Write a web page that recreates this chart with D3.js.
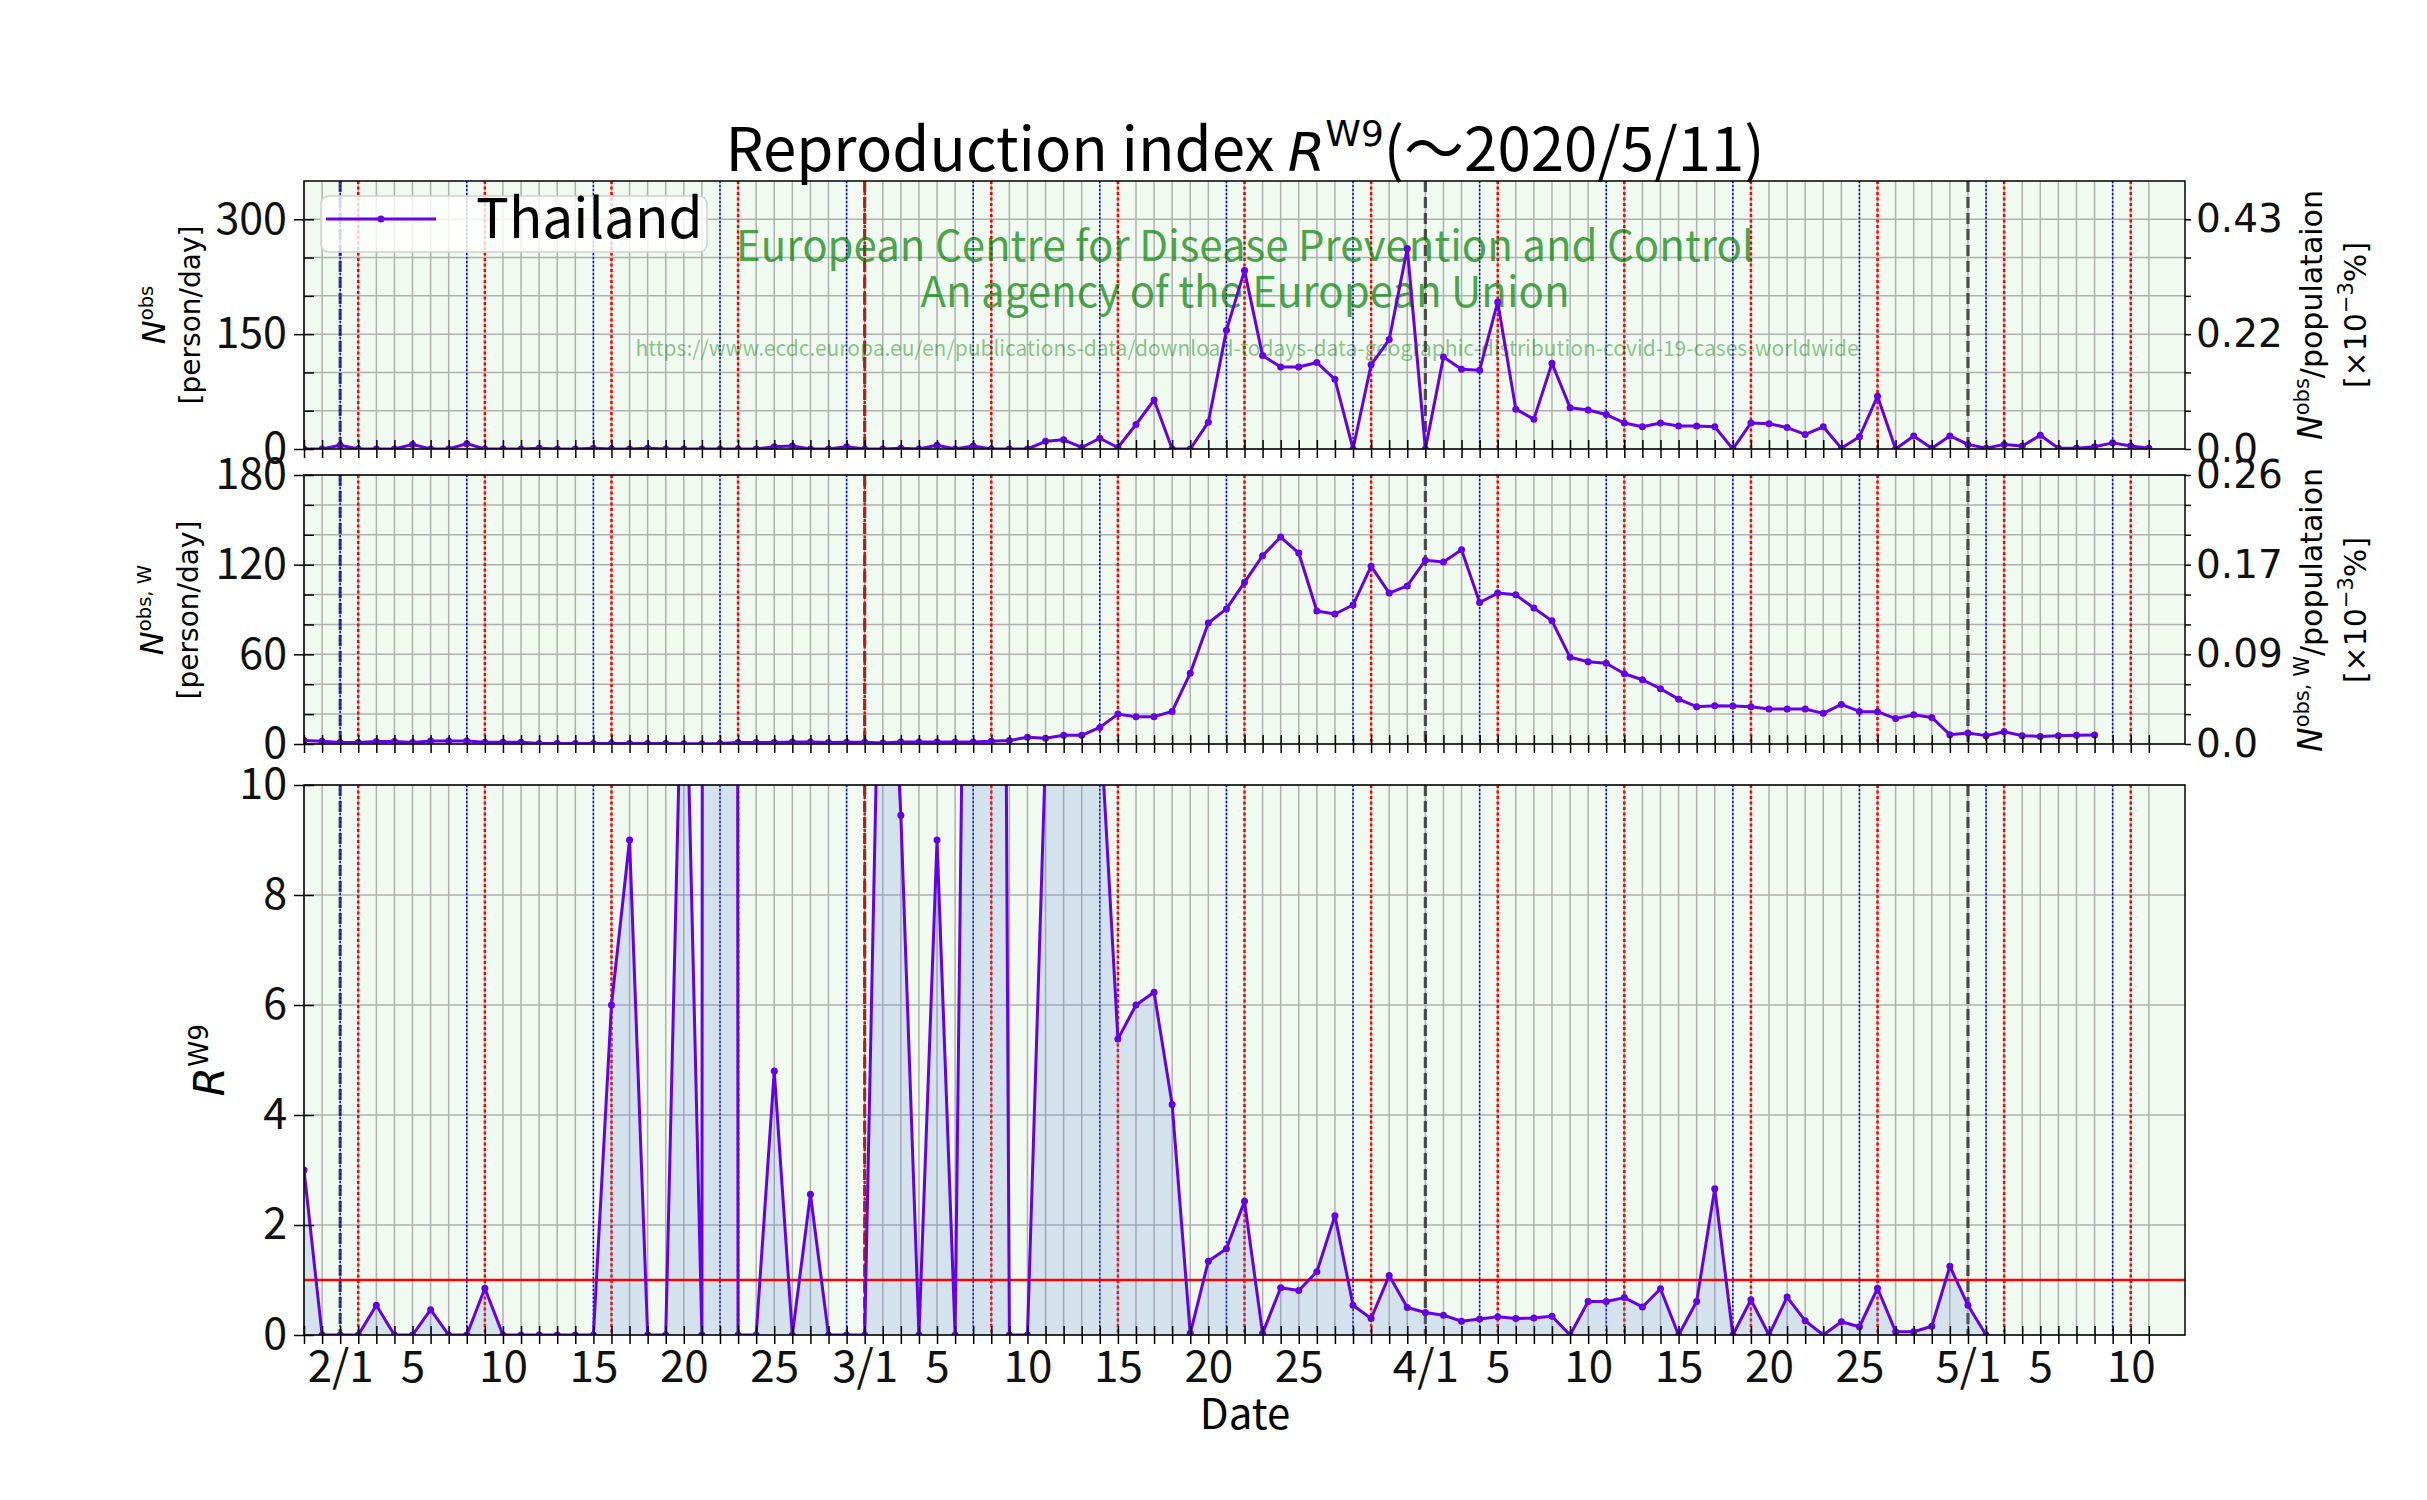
<!DOCTYPE html>
<html>
<head>
<meta charset="utf-8">
<script src="https://cdn.jsdelivr.net/npm/d3@7/dist/d3.min.js"></script>
<style>
  body { margin: 0; background: #fff; }
</style>
</head>
<body>
<svg id="chart" width="2427" height="1500"></svg>
<script>
// ---- data ----
const firstDay = "2020-01-30";   // first data point = left edge
const lastTick = "2020-05-11";   // last daily tick / grid line
const lastDay = "2020-05-13";    // right edge of the x axis

// daily new cases N^obs [person/day], 2020-01-30 .. 2020-05-11
const dailyCases = [
  0, 0, 5, 0, 0, 0, 6, 0, 0, 7,
  0, 0, 0, 1, 0, 0, 1, 0, 0, 1,
  0, 0, 0, 0, 0, 0, 3, 4, 0, 0,
  3, 0, 0, 1, 0, 5, 0, 4, 0, 0,
  0, 10, 12, 2, 14, 2, 32, 64, 0, 0,
  35, 155, 233, 122, 107, 107, 113, 91, 0, 110,
  143, 262, 0, 120, 104, 103, 192, 52, 39, 112,
  54, 51, 45, 34, 29, 34, 30, 30, 29, 0,
  34, 33, 28, 19, 29, 1, 16, 69, 0, 17,
  1, 17, 6, 1, 6, 4, 18, 1, 1, 3,
  8, 4, 1
];

// weekly averaged N^obs,W [person/day], 2020-01-30 .. 2020-05-08
const weeklyCases = [
  2.3, 1.9, 1.0, 1.0, 1.7, 1.6, 1.0, 2.0, 2.0, 2.0,
  1.1, 1.1, 1.1, 0.4, 0.4, 0.4, 0.4, 0.4, 0.3, 0.3,
  0.3, 0.1, 0.1, 0.4, 1.0, 1.0, 1.0, 1.4, 1.4, 1.0,
  1.1, 1.1, 0.6, 1.3, 1.4, 1.4, 1.4, 1.4, 1.8, 2.4,
  4.5, 3.8, 5.8, 5.8, 11.1, 20.0, 18.3, 18.3, 21.8, 47.4,
  81.0, 90.4, 108.2, 126.0, 138.5, 127.8, 89.0, 87.0, 93.0, 119.0,
  101.0, 105.8, 123.0, 121.8, 130.0, 94.7, 101.0, 99.8, 91.0, 82.4,
  58.0, 55.0, 54.0, 47.0, 43.0, 37.0, 30.0, 25.0, 25.6, 25.4,
  25.0, 23.4, 23.4, 23.4, 20.5, 26.5, 21.8, 21.6, 17.0, 19.6,
  17.8, 6.2, 7.3, 5.6, 8.2, 5.6, 5.1, 5.6, 5.8, 6.0
];

// reproduction index R^W9, 2020-01-30 .. 2020-05-02 (values above 10 run off the panel)
const rw9 = [
  3.0, 0, 0, 0, 0.54, 0, 0, 0.46, 0, 0,
  0.85, 0, 0, 0, 0, 0, 0, 6.0, 9.0, 0,
  0, 14, 0, 500, 0, 0, 4.8, 0, 2.56, 0,
  0, 0, 16, 9.45, 0, 9.0, 0, 28, 60, 0,
  0, 10.6, 16, 13, 11.3, 5.38, 6.0, 6.23, 4.19, 0.03,
  1.34, 1.57, 2.43, 0.03, 0.86, 0.81, 1.15, 2.17, 0.54, 0.30,
  1.08, 0.50, 0.41, 0.36, 0.25, 0.29, 0.33, 0.30, 0.31, 0.34,
  0, 0.61, 0.61, 0.68, 0.51, 0.84, 0, 0.61, 2.66, 0,
  0.64, 0, 0.69, 0.26, 0, 0.24, 0.15, 0.85, 0.06, 0.06,
  0.16, 1.25, 0.54, 0
];

const xTickDates = [
  "2020-02-01", "2020-02-05", "2020-02-10", "2020-02-15", "2020-02-20", "2020-02-25",
  "2020-03-01", "2020-03-05", "2020-03-10", "2020-03-15", "2020-03-20", "2020-03-25",
  "2020-04-01", "2020-04-05", "2020-04-10", "2020-04-15", "2020-04-20", "2020-04-25",
  "2020-05-01", "2020-05-05", "2020-05-10"
];
const xTickLabels = [
  "2/1", "5", "10", "15", "20", "25",
  "3/1", "5", "10", "15", "20", "25",
  "4/1", "5", "10", "15", "20", "25",
  "5/1", "5", "10"
];

const topTicks = [0, 150, 300];
const topGrid = [0, 50, 100, 150, 200, 250, 300];
const topRightLabels = ["0.0", "0.22", "0.43"];
const midTicks = [0, 60, 120, 180];
const midGrid = [0, 20, 40, 60, 80, 100, 120, 140, 160, 180];
const midRightLabels = ["0.0", "0.09", "0.17", "0.26"];
const rTicks = [0, 2, 4, 6, 8, 10];

// ---- setup ----
const svg = d3.select("#chart");
const font = "'Noto Sans CJK JP', 'Noto Sans', sans-serif";
const mathFont = "'DejaVu Sans', sans-serif";
const lineColor = "#6600e6";

const parseDay = d3.utcParse("%Y-%m-%d");
const t0 = parseDay(firstDay);
const dayOf = i => d3.utcDay.offset(t0, i);

const plotLeft = 304, plotRight = 2185;
const x = d3.scaleUtc().domain([t0, parseDay(lastDay)]).range([plotLeft, plotRight]);
const days = d3.utcDay.range(t0, d3.utcDay.offset(parseDay(lastTick), 1));

function addPanel(name, top, bottom, ymax, grid) {
  const y = d3.scaleLinear().domain([0, ymax]).range([bottom, top]);
  svg.append("clipPath").attr("id", "clip-" + name)
    .append("rect")
    .attr("x", plotLeft).attr("y", top)
    .attr("width", plotRight - plotLeft).attr("height", bottom - top);

  const g = svg.append("g").attr("class", name);
  g.append("rect")
    .attr("x", plotLeft).attr("y", top)
    .attr("width", plotRight - plotLeft).attr("height", bottom - top)
    .attr("fill", "#f0faf0");

  // grid
  g.append("g").selectAll("line").data(grid).join("line")
    .attr("x1", plotLeft).attr("x2", plotRight)
    .attr("y1", d => y(d)).attr("y2", d => y(d))
    .attr("stroke", "#b0b0b0").attr("stroke-width", 1.5);
  g.append("g").selectAll("line").data(days).join("line")
    .attr("x1", d => x(d)).attr("x2", d => x(d))
    .attr("y1", top).attr("y2", bottom)
    .attr("stroke", "#b0b0b0").attr("stroke-width", 1.5);

  // month starts, saturdays, sundays
  const vlines = (list, color, width, dash, opacity) =>
    g.append("g").selectAll("line").data(list).join("line")
      .attr("x1", d => x(d)).attr("x2", d => x(d))
      .attr("y1", top).attr("y2", bottom)
      .attr("stroke", color).attr("stroke-width", width)
      .attr("stroke-dasharray", dash).attr("stroke-opacity", opacity);
  vlines(days.filter(d => d.getUTCDate() === 1), "#333", 3.2, "11,5", 0.85);
  vlines(days.filter(d => d.getUTCDay() === 6), "blue", 1.5, "2,2", 1);
  vlines(days.filter(d => d.getUTCDay() === 0), "red", 2.5, "3,2.5", 1);

  return { g, y, top, bottom, clip: "url(#clip-" + name + ")" };
}

function drawSeries(p, values, withArea) {
  const cg = svg.append("g").attr("clip-path", p.clip);
  if (withArea) {
    cg.append("path").datum(values)
      .attr("d", d3.area().x((d, i) => x(dayOf(i))).y0(p.y(0)).y1(d => p.y(d)))
      .attr("fill", "rgb(100,130,225)").attr("fill-opacity", 0.2);
    // R = 1 reference line
    cg.append("line")
      .attr("x1", plotLeft).attr("x2", plotRight)
      .attr("y1", p.y(1)).attr("y2", p.y(1))
      .attr("stroke", "red").attr("stroke-width", 2.5);
  }
  cg.append("path").datum(values)
    .attr("d", d3.line().x((d, i) => x(dayOf(i))).y(d => p.y(d)))
    .attr("fill", "none").attr("stroke", lineColor)
    .attr("stroke-width", 3).attr("stroke-linejoin", "round");
  cg.selectAll("circle").data(values).join("circle")
    .attr("cx", (d, i) => x(dayOf(i))).attr("cy", d => p.y(d))
    .attr("r", 3.5).attr("fill", lineColor);
}

function frameAndAxes(p, major, minor, rightLabels, rightGrid, withDates) {
  svg.append("rect")
    .attr("x", plotLeft).attr("y", p.top)
    .attr("width", plotRight - plotLeft).attr("height", p.bottom - p.top)
    .attr("fill", "none").attr("stroke", "#000").attr("stroke-width", 1.5);

  // left axis: major ticks cross the spine, minor ticks point inwards
  const la = svg.append("g").attr("transform", `translate(${plotLeft},0)`)
    .call(d3.axisLeft(p.y).tickValues(major).tickFormat(d3.format("d")).tickSize(10).tickPadding(7));
  la.select(".domain").remove();
  la.selectAll(".tick line").attr("x1", 10).attr("stroke-width", 1.5);
  la.selectAll("text").attr("font-family", font).attr("font-size", 43).attr("fill", "#111");
  if (minor.length) {
    const ma = svg.append("g").attr("transform", `translate(${plotLeft},0)`)
      .call(d3.axisLeft(p.y).tickValues(minor).tickFormat("").tickSize(-10));
    ma.select(".domain").remove();
    ma.selectAll(".tick line").attr("stroke-width", 1.5);
  }

  // right axis in % of population
  if (rightLabels) {
    const ra = svg.append("g").attr("transform", `translate(${plotRight},0)`)
      .call(d3.axisRight(p.y).tickValues(rightGrid)
        .tickFormat(d => { const k = major.indexOf(d); return k >= 0 ? rightLabels[k] : ""; })
        .tickSize(6).tickPadding(5));
    ra.select(".domain").remove();
    ra.selectAll(".tick line").attr("stroke-width", 1.5);
    ra.selectAll("text").attr("font-family", mathFont).attr("font-size", 39).attr("fill", "#111");
  }

  // daily ticks on the x axis
  const xa = svg.append("g").attr("transform", `translate(0,${p.bottom})`)
    .call(d3.axisBottom(x).tickValues(days).tickFormat("").tickSize(9));
  xa.select(".domain").remove();
  xa.selectAll(".tick line").attr("y1", -9).attr("stroke-width", 1.5);

  if (withDates) {
    const xl = svg.append("g").attr("transform", `translate(0,${p.bottom})`)
      .call(d3.axisBottom(x).tickValues(xTickDates.map(parseDay))
        .tickFormat((d, i) => xTickLabels[i]).tickSize(0).tickPadding(16));
    xl.select(".domain").remove();
    xl.selectAll("text").attr("font-family", font).attr("font-size", 44).attr("fill", "#111");
  }
}

function rotatedLabel(bx, cy, parts, size) {
  const t = svg.append("text")
    .attr("transform", `translate(${bx},${cy}) rotate(-90)`)
    .attr("text-anchor", "middle")
    .attr("font-family", mathFont).attr("font-size", size).attr("fill", "#000");
  let raised = false;
  parts.forEach(p => {
    const s = t.append("tspan").text(p.t);
    if (p.i) s.attr("font-style", "italic");
    if (p.big) s.attr("font-size", p.big);
    if (p.sup) {
      s.attr("font-size", size * 0.7);
      if (!raised) s.attr("dy", -size * 0.42);
      raised = true;
    } else if (raised) {
      s.attr("dy", size * 0.42);
      raised = false;
    }
  });
}

// ---- panels ----
const pTop = addPanel("daily", 181, 449, 350, topGrid);
const pMid = addPanel("weekly", 475, 744, 180, midGrid);
const pR = addPanel("rw9", 785, 1335, 10, rTicks);

// data source watermark
const wm = svg.append("g").attr("font-family", font).attr("text-anchor", "middle").attr("fill", "#008000");
wm.append("text").attr("x", 1245).attr("y", 261).attr("font-size", 42).attr("fill-opacity", 0.7)
  .text("European Centre for Disease Prevention and Control");
wm.append("text").attr("x", 1245).attr("y", 307).attr("font-size", 42).attr("fill-opacity", 0.7)
  .text("An agency of the European Union");
wm.append("text").attr("x", 1247).attr("y", 356).attr("font-size", 21).attr("fill-opacity", 0.45)
  .text("https://www.ecdc.europa.eu/en/publications-data/download-todays-data-geographic-distribution-covid-19-cases-worldwide");

drawSeries(pTop, dailyCases, false);
drawSeries(pMid, weeklyCases, false);
drawSeries(pR, rw9, true);

frameAndAxes(pTop, topTicks, [50, 100, 200, 250], topRightLabels, topGrid, false);
frameAndAxes(pMid, midTicks, [20, 40, 80, 100, 140, 160], midRightLabels, midGrid, false);
frameAndAxes(pR, rTicks, [], null, null, true);

// ---- axis titles ----
rotatedLabel(165, 315, [{ t: "N", i: true, big: 32 }, { t: "obs", sup: true }], 28);
rotatedLabel(200, 315, [{ t: "[person/day]" }], 28);
rotatedLabel(163, 610, [{ t: "N", i: true, big: 32 }, { t: "obs, W", sup: true }], 28);
rotatedLabel(198, 610, [{ t: "[person/day]" }], 28);
rotatedLabel(224, 1060, [{ t: "R", i: true, big: 42 }, { t: "W9", sup: true }], 38);

rotatedLabel(2322, 315, [{ t: "N", i: true, big: 33 }, { t: "obs", sup: true }, { t: "/populataion" }], 30);
rotatedLabel(2366, 315, [{ t: "[×10" }, { t: "−3", sup: true }, { t: "%]" }], 30);
rotatedLabel(2322, 610, [{ t: "N", i: true, big: 33 }, { t: "obs, W", sup: true }, { t: "/populataion" }], 30);
rotatedLabel(2366, 610, [{ t: "[×10" }, { t: "−3", sup: true }, { t: "%]" }], 30);

svg.append("text").attr("x", 1245).attr("y", 1429).attr("text-anchor", "middle")
  .attr("font-family", font).attr("font-size", 42).text("Date");

// ---- title ----
const title = svg.append("text").attr("x", 1245).attr("y", 171).attr("text-anchor", "middle")
  .attr("font-family", font).attr("font-size", 60);
title.append("tspan").text("Reproduction index ");
title.append("tspan").attr("font-family", mathFont).attr("font-style", "italic").attr("font-size", 54).text("R");
title.append("tspan").attr("font-family", mathFont).attr("font-size", 36).attr("dy", -25).text("W9");
title.append("tspan").attr("dy", 25).text("(〜2020/5/11)");

// ---- legend ----
const lg = svg.append("g");
lg.append("rect").attr("x", 321).attr("y", 196).attr("width", 386).attr("height", 56).attr("rx", 8)
  .attr("fill", "#fff").attr("fill-opacity", 0.8).attr("stroke", "#d0d0d0").attr("stroke-width", 1.5);
lg.append("line").attr("x1", 326).attr("x2", 436).attr("y1", 219).attr("y2", 219)
  .attr("stroke", lineColor).attr("stroke-width", 3);
lg.append("circle").attr("cx", 381).attr("cy", 219).attr("r", 3.5).attr("fill", lineColor);
lg.append("text").attr("x", 476).attr("y", 238).attr("font-family", font).attr("font-size", 55)
  .text("Thailand");
</script>
</body>
</html>
